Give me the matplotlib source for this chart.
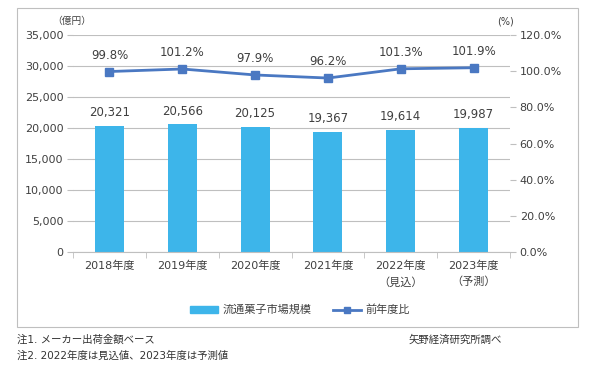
import numpy as np
import matplotlib
import matplotlib.pyplot as plt
from matplotlib.patches import Rectangle
from matplotlib.lines import Line2D
from matplotlib.patches import Patch

plt.rcParams['font.family'] = ['DejaVu Sans', 'Noto Sans CJK JP']
plt.rcParams['font.size'] = 7.5

# data
years = ['2018年度', '2019年度', '2020年度', '2021年度', '2022年度\n（見込）', '2023年度\n（予測）']
market = [20321, 20566, 20125, 19367, 19614, 19987]
yoy = [99.8, 101.2, 97.9, 96.2, 101.3, 101.9]

bar_color = '#3DB5EA'
line_color = '#4A78C2'
text_color = '#404040'
grid_color = '#BFBFBF'

fig = plt.figure(figsize=(6, 3.86), dpi=100)

# outer frame
fig.patches.append(Rectangle((17/600, 1-327/386), 561/600, 319/386, transform=fig.transFigure,
                             fill=False, edgecolor='#BFBFBF', linewidth=0.8))

ax = fig.add_axes([73/600, 1-252/386, 437/600, 217/386])
x = np.arange(len(years))

ax.bar(x, market, 0.4, color=bar_color, zorder=2)
ax.set_ylim(0, 35000)
ax.set_xlim(-0.5, len(years)-0.5)
ax.set_yticks(np.arange(0, 35001, 5000))
ax.set_yticklabels([f'{v:,}' for v in range(0, 35001, 5000)], fontsize=8)
ax.grid(axis='y', color=grid_color, linewidth=0.8, zorder=0)
ax.set_xticks(x)
ax.set_xticklabels(years, fontsize=8, linespacing=1.7)
ax.set_xticks(np.arange(-0.5, len(years), 1), minor=True)
ax.tick_params(axis='x', which='major', length=0, pad=6, colors=text_color)
ax.tick_params(axis='x', which='minor', length=4, color=grid_color)
ax.tick_params(axis='y', length=4, color=grid_color, labelcolor=text_color, pad=3)
for s in ['top', 'left', 'right']:
    ax.spines[s].set_visible(False)
ax.spines['bottom'].set_color(grid_color)

for xi, v in zip(x, market):
    ax.annotate(f'{v:,}', (xi, v), xytext=(0, 5), textcoords='offset points',
                ha='center', va='bottom', fontsize=8.5, color=text_color)

ax2 = ax.twinx()
ax2.plot(x, yoy, color=line_color, marker='s', markersize=6, linewidth=2, zorder=3)
ax2.set_ylim(0, 120)
ax2.set_yticks(np.arange(0, 121, 20))
ax2.set_yticklabels([f'{v:.1f}%' for v in range(0, 121, 20)], fontsize=8)
ax2.tick_params(axis='y', length=4, color=grid_color, labelcolor=text_color, pad=3)
for s in ['top', 'left', 'right', 'bottom']:
    ax2.spines[s].set_visible(False)

for xi, v in zip(x, yoy):
    ax2.annotate(f'{v:.1f}%', (xi, v), xytext=(0, 7), textcoords='offset points',
                 ha='center', va='bottom', fontsize=8.5, color=text_color)

fig.text(72/600, 1-21/386, '（億円）', ha='center', va='center', color=text_color, fontsize=7)
fig.text(505/600, 1-22/386, '(%)', ha='center', va='center', color=text_color, fontsize=7)

handles = [Patch(color=bar_color), Line2D([], [], color=line_color, marker='s', markersize=5, linewidth=2)]
fig.legend(handles, ['流通菓子市場規模', '前年度比'], loc='center', bbox_to_anchor=(300/600, 1-310/386),
           ncol=2, frameon=False, handlelength=2.5, handleheight=0.5, columnspacing=2,
           handletextpad=0.4, labelcolor=text_color, fontsize=8)

fig.text(17/600, 1-340/386, '注1. メーカー出荷金額ベース', ha='left', va='center', color='#333333', fontsize=7.5)
fig.text(17/600, 1-356/386, '注2. 2022年度は見込値、2023年度は予測値', ha='left', va='center', color='#333333', fontsize=7.5)
fig.text(502/600, 1-340/386, '矢野経済研究所調べ', ha='right', va='center', color='#333333', fontsize=7.5)

plt.savefig('out.png', dpi=100)
